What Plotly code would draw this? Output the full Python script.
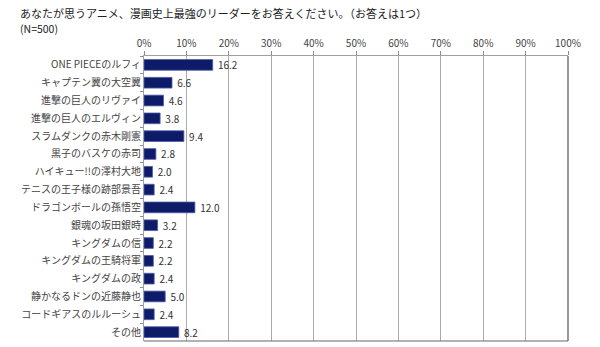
import plotly.graph_objects as go

categories = [
    "ONE PIECEのルフィ", "キャプテン翼の大空翼", "進撃の巨人のリヴァイ", "進撃の巨人のエルヴィン",
    "スラムダンクの赤木剛憲", "黒子のバスケの赤司", "ハイキュー!!の澤村大地", "テニスの王子様の跡部景吾",
    "ドラゴンボールの孫悟空", "銀魂の坂田銀時", "キングダムの信", "キングダムの王騎将軍",
    "キングダムの政", "静かなるドンの近藤静也", "コードギアスのルルーシュ", "その他",
]
values = [16.2, 6.6, 4.6, 3.8, 9.4, 2.8, 2.0, 2.4, 12.0, 3.2, 2.2, 2.2, 2.4, 5.0, 2.4, 8.2]
tick_vals = [0, 10, 20, 30, 40, 50, 60, 70, 80, 90, 100]
tick_text = [f"{v}%" for v in tick_vals]

title_text = "あなたが思うアニメ、漫画史上最強のリーダーをお答えください。（お答えは1つ）"
n_text = "(N=500)"

FONT = "Noto Sans CJK JP"

fig = go.Figure()
fig.add_trace(go.Bar(
    x=values, y=categories, orientation="h",
    marker=dict(color="#0e1b68", line=dict(color="#4d5ca8", width=0.8)),
    text=[f" {v:.1f}" for v in values], textposition="outside",
    constraintext="none",
    textfont=dict(family=FONT, size=10, color="#333333"),
    cliponaxis=False, width=0.6,
))

L, R, T, B = 143.5, 32, 56, 6
W, H = 600, 347
pw = W - L - R
ph = H - T - B

fig.update_layout(
    width=W, height=H,
    margin=dict(l=L, r=R, t=T, b=B, pad=0),
    paper_bgcolor="white", plot_bgcolor="white",
    showlegend=False,
    font=dict(family=FONT, size=10, color="#333333"),
    xaxis=dict(
        side="top", range=[0, 100], tickvals=tick_vals, ticktext=tick_text,
        showgrid=True, gridcolor="#ababab", gridwidth=1,
        showline=True, linecolor="#a0a0a0", linewidth=1,
        ticks="outside", ticklen=4, tickcolor="#8c8c8c",
        tickfont=dict(family=FONT, size=10, color="#444444"),
        zeroline=False, fixedrange=True,
    ),
    yaxis=dict(
        autorange="reversed", showline=True, linecolor="#a0a0a0", linewidth=1,
        ticks="outside", ticklen=3, tickcolor="#8c8c8c", tickson="boundaries",
        tickfont=dict(family=FONT, size=10, color="#444444"),
        showgrid=False, fixedrange=True,
    ),
    annotations=[
        dict(text=title_text, xref="paper", yref="paper",
             x=(17 - L) / pw, y=1 + (T - 13) / ph, xanchor="left", yanchor="middle",
             showarrow=False, font=dict(family=FONT, size=11, color="#222222")),
        dict(text=n_text, xref="paper", yref="paper",
             x=(17 - L) / pw, y=1 + (T - 29) / ph, xanchor="left", yanchor="middle",
             showarrow=False, font=dict(family=FONT, size=10.5, color="#222222")),
    ],
    shapes=[
        dict(type="line", xref="paper", yref="paper", x0=1, x1=1, y0=0, y1=1,
             line=dict(color="#555555", width=1.2)),
        dict(type="line", xref="paper", yref="paper", x0=0, x1=1, y0=0, y1=0,
             line=dict(color="#666666", width=1.2)),
    ],
)

fig.write_html("out.html")
